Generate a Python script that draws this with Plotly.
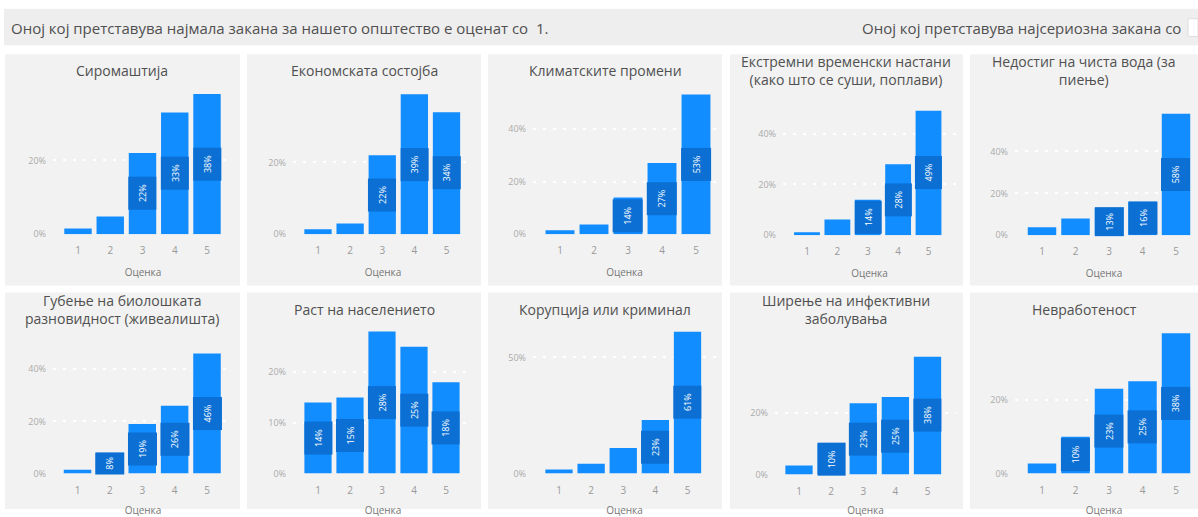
import plotly.graph_objects as go

# DATA
# ----------------------------------------------------------------
ratings = ["1", "2", "3", "4", "5"]

titles = [
    "Сиромаштија",
    "Економската состојба",
    "Климатските промени",
    "Екстремни временски настани<br>(како што се суши, поплави)",
    "Недостиг на чиста вода (за<br>пиење)",
    "Губење на биолошката<br>разновидност (живеалишта)",
    "Раст на населението",
    "Корупција или криминал",
    "Ширење на инфективни<br>заболувања",
    "Невработеност",
]

# share of answers (%) for ratings 1..5
poverty = [1.6, 4.8, 22, 33, 38]
economy = [1.4, 3.0, 22, 39, 34]
climate = [1.5, 3.7, 14, 27, 53]
extreme_weather = [1.2, 6.2, 14, 28, 49]
clean_water = [3.8, 8.0, 13, 16, 58]
biodiversity = [1.5, 8.0, 19, 26, 46]
population = [14, 15, 28, 25, 18]
corruption = [1.7, 4.2, 11, 23, 61]
infectious = [2.9, 10, 23, 25, 38]
unemployment = [2.7, 10, 23, 25, 38]

series = [poverty, economy, climate, extreme_weather, clean_water,
          biodiversity, population, corruption, infectious, unemployment]

# first rating that carries a data label in each chart
first_labelled = [3, 3, 3, 3, 3, 2, 1, 4, 2, 2]

y_ticks = [[0, 20], [0, 20], [0, 20, 40], [0, 20, 40], [0, 20, 40],
           [0, 20, 40], [0, 10, 20], [0, 50], [0, 20], [0, 20]]

header_left = "Оној кој претставува најмала закана за нашето општество е оценат со  1."
header_right = "Оној кој претставува најсериозна закана со"
x_title = "Оценка"

# LAYOUT (pixels)
# ----------------------------------------------------------------
W, H = 1198, 517
FONT = "Open Sans, Noto Sans, sans-serif"
BAR = "#118DFF"
LABEL_BG = "#0B6FD3"
PANEL = "#F2F2F2"
TXT = "#505050"


def fx(p):
    return min(1, max(0, p / W))


def fy(p):
    return min(1, max(0, 1 - p / H))


panel_x = [(5, 240), (247, 481), (488, 722), (730, 963), (970, 1198)]
panel_y = [(55, 290), (297, 530)]
title_y = [[72, 72, 72, 72, 72], [314, 314, 314, 314, 314]]
# grid start, grid end, centre of bar 1, centre of bar 5, baseline, px per percent
geom = [
    (53, 233, 78, 207, 238, 3.75),
    (293, 473, 318, 446.5, 238, 3.65),
    (533, 716, 560, 696, 238, 2.68),
    (783, 956, 807, 928.5, 239, 2.58),
    (1015, 1193, 1042, 1176, 239, 2.13),
    (53, 233, 77.5, 207, 481, 2.65),
    (293, 473, 318, 446, 481, 5.15),
    (533, 716, 559, 687.5, 481, 2.36),
    (775, 956, 799, 927.5, 482, 3.15),
    (1015, 1193, 1042, 1176, 481, 3.75),
]
plot_top = [88, 332]

fig = go.Figure()
shapes = []
annotations = []

# header band
shapes.append(dict(type="rect", xref="paper", yref="paper", layer="below",
                   x0=fx(4), x1=1, y0=fy(46), y1=fy(9),
                   fillcolor="#EEEEEE", line_width=0))
shapes.append(dict(type="rect", xref="paper", yref="paper", layer="above",
                   x0=fx(1188), x1=1, y0=fy(37), y1=fy(19),
                   fillcolor="white", line=dict(color="#DDDDDD", width=1)))
annotations.append(dict(text=header_left, xref="paper", yref="paper",
                        x=fx(9), y=fy(28), xanchor="left", yanchor="middle",
                        showarrow=False, font=dict(size=15, color=TXT)))
annotations.append(dict(text=header_right, xref="paper", yref="paper",
                        x=fx(1183), y=fy(28), xanchor="right", yanchor="middle",
                        showarrow=False, font=dict(size=15, color=TXT)))

for k, vals in enumerate(series):
    n = k + 1
    row, col = divmod(k, 5)
    px0, px1 = panel_x[col]
    py0, py1 = panel_y[row]
    shapes.append(dict(type="rect", xref="paper", yref="paper", layer="below",
                       x0=fx(px0), x1=fx(px1), y0=fy(py1), y1=fy(py0),
                       fillcolor=PANEL, line_width=0))
    annotations.append(dict(text=titles[k], xref="paper", yref="paper",
                            x=fx((px0 + px1) / 2), y=fy(title_y[row][col]),
                            xanchor="center", yanchor="middle", showarrow=False,
                            font=dict(size=14, color=TXT)))

    g0, g1, c1, c5, base, ppp = geom[k]
    sp = (c5 - c1) / 4
    ytop = plot_top[row]
    xs = list(range(len(ratings)))

    fig.add_trace(go.Bar(x=xs, y=vals, marker=dict(color=BAR, line_width=0),
                         xaxis=f"x{n}", yaxis=f"y{n}", hoverinfo="skip",
                         showlegend=False))

    fig.layout[f"xaxis{n}"] = dict(
        domain=[fx(g0), fx(g1)], anchor=f"y{n}",
        range=[-(c1 - g0) / sp, 4 + (g1 - c5) / sp],
        tickvals=xs, ticktext=ratings, showgrid=False, zeroline=False,
        showline=False, ticks="", ticklabelstandoff=9,
        tickfont=dict(size=10, color="#999999"),
        title=dict(text=x_title, font=dict(size=10, color="#777777"), standoff=12),
        fixedrange=True)
    fig.layout[f"yaxis{n}"] = dict(
        domain=[fy(base), fy(ytop)], anchor=f"x{n}",
        range=[0, (base - ytop) / ppp],
        tickvals=y_ticks[k], ticktext=[f"{t}%" for t in y_ticks[k]],
        showgrid=True, gridcolor="white", gridwidth=2, griddash="3px,7px",
        zeroline=True, zerolinecolor=PANEL, zerolinewidth=3,
        showline=False, ticks="", ticklabelstandoff=6,
        tickfont=dict(size=9, color="#AAAAAA"), fixedrange=True)

    bar_px = sp * 0.85
    for i, v in enumerate(vals):
        if i + 1 < first_labelled[k]:
            continue
        box = min(32, v * ppp)
        annotations.append(dict(
            text=f"{round(v)}%", xref=f"x{n}", yref=f"y{n}", x=i, y=v / 2,
            textangle=-90, showarrow=False, bgcolor=LABEL_BG, borderpad=0,
            width=box, height=bar_px, align="center", valign="middle",
            font=dict(size=9, color="white")))

fig.update_layout(
    width=W, height=H, margin=dict(l=0, r=0, t=0, b=0),
    paper_bgcolor="white", plot_bgcolor=PANEL,
    bargap=0.15, font=dict(family=FONT),
    shapes=shapes, annotations=annotations, showlegend=False,
)

# the page body would otherwise add an 8px margin round the figure
fig.write_html("out.html", config={"displayModeBar": False},
               post_script="document.body.style.margin = '0';")
